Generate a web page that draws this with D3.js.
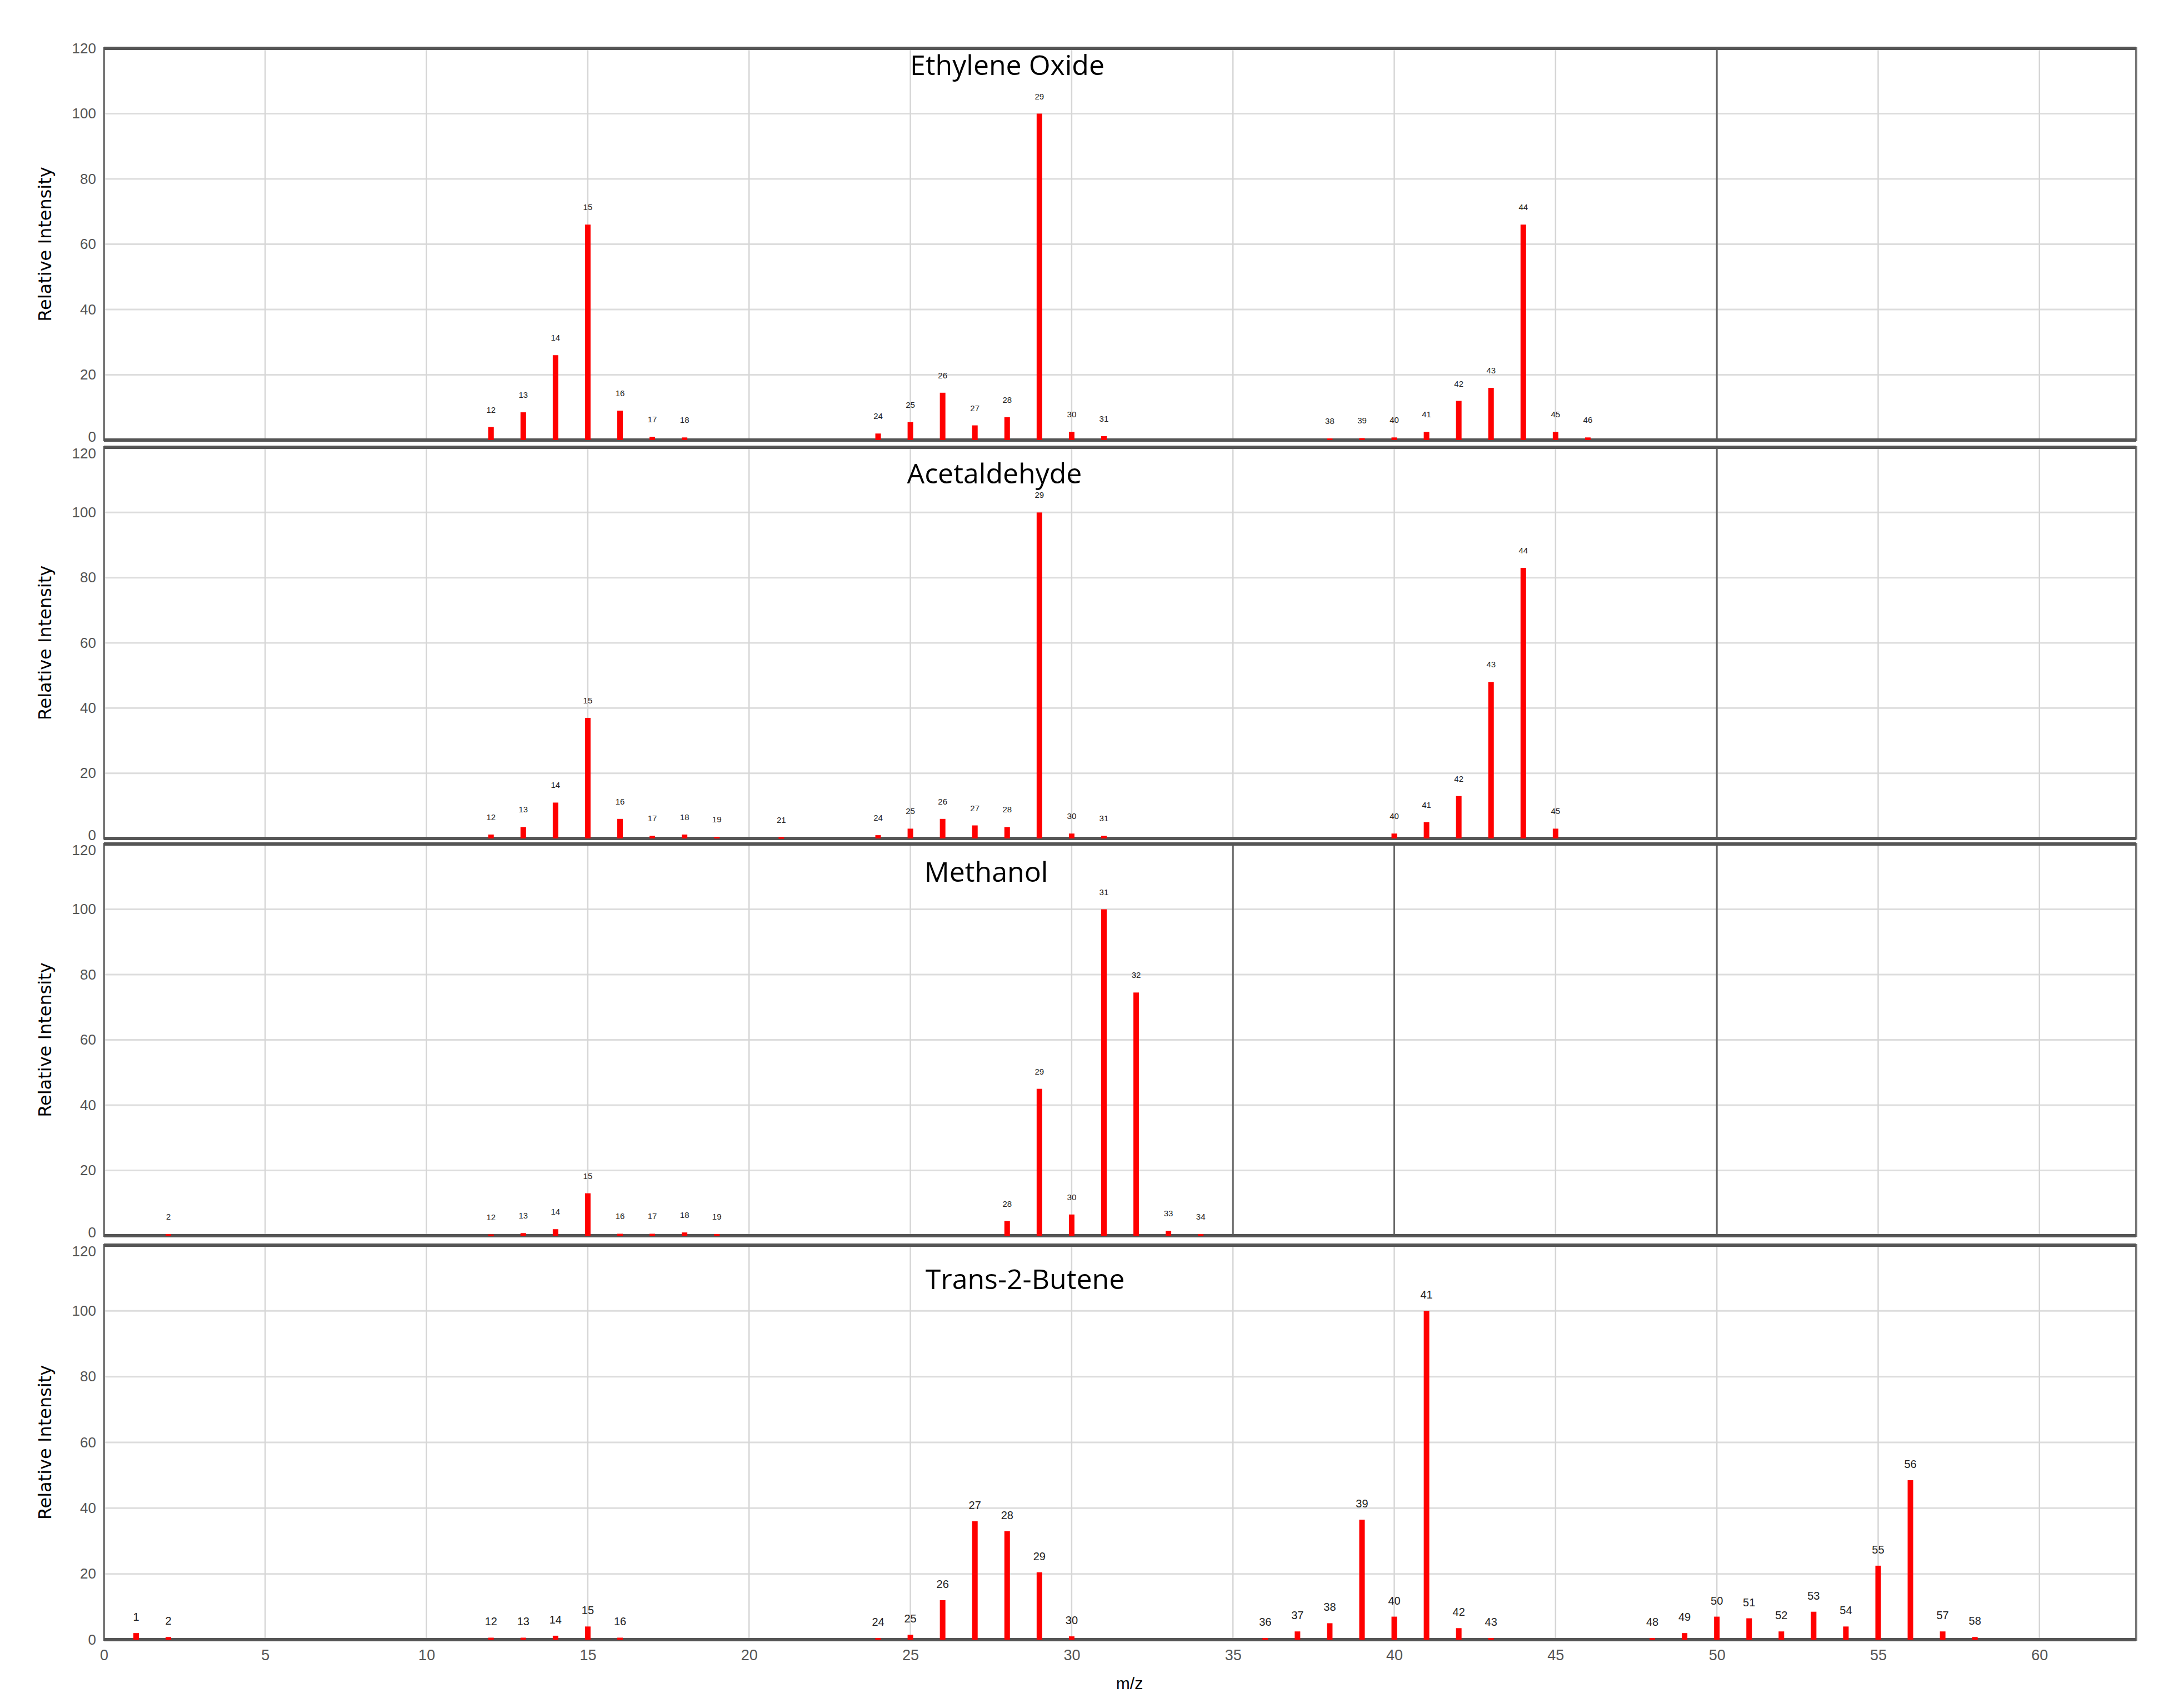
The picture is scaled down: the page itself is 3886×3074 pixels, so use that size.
<!DOCTYPE html>
<html><head><meta charset="utf-8">
<script src="https://cdn.jsdelivr.net/npm/d3@7"></script>
<style>body{margin:0;background:#fff}</style></head>
<body><svg id="c" width="3886" height="3074"></svg>
<script>
const titles = ["Ethylene Oxide","Acetaldehyde","Methanol","Trans-2-Butene"];
const eoMz  = [12,13,14,15,16,17,18,24,25,26,27,28,29,30,31,38,39,40,41,42,43,44,45,46];
const eoVal = [4,8.5,26,66,9,1,0.8,2,5.5,14.5,4.5,7,100,2.5,1.2,0.5,0.6,0.8,2.5,12,16,66,2.5,0.8];
const acMz  = [12,13,14,15,16,17,18,19,21,24,25,26,27,28,29,30,31,40,41,42,43,44,45];
const acVal = [1.2,3.5,11,37,6,0.8,1.2,0.5,0.4,1,3,6,4,3.5,100,1.5,0.8,1.5,5,13,48,83,3];
const meMz  = [2,12,13,14,15,16,17,18,19,28,29,30,31,32,33,34];
const meVal = [0.5,0.4,0.8,2,13,0.6,0.6,1,0.5,4.5,45,6.5,100,74.5,1.5,0.5];
const buMz  = [1,2,12,13,14,15,16,24,25,26,27,28,29,30,36,37,38,39,40,41,42,43,48,49,50,51,52,53,54,55,56,57,58];
const buVal = [2,0.8,0.6,0.6,1.2,4,0.6,0.5,1.5,12,36,33,20.5,1,0.5,2.5,5,36.5,7,100,3.5,0.5,0.5,2,7,6.5,2.5,8.5,4,22.5,48.5,2.5,0.8];
const xTicks = [0,5,10,15,20,25,30,35,40,45,50,55,60];
const yTicks = [0,20,40,60,80,100,120];
const extraLines = [[50],[50],[35,40,50],[]];

const series = [[eoMz,eoVal],[acMz,acVal],[meMz,meVal],[buMz,buVal]];
const panels = [[87,792],[805,1509],[1519,2224],[2241,2951]];
const titleY = [135,870,1587,2320];
const titleX = [1813,1790,1775,1845];
const svg = d3.select("#c");
const x = d3.scaleLinear().domain([0,63]).range([187,3845]);
const font = "Liberation Sans, Arial, sans-serif";

panels.forEach(([top,bot],i)=>{
  const y = d3.scaleLinear().domain([0,120]).range([bot,top]);
  const g = svg.append("g");
  g.selectAll(".gy").data(yTicks.slice(1,-1)).join("line")
    .attr("x1",x(0)).attr("x2",x(63)).attr("y1",d=>y(d)).attr("y2",d=>y(d))
    .attr("stroke","#ddd").attr("stroke-width",3);
  g.selectAll(".gx").data(xTicks.slice(1)).join("line")
    .attr("x1",d=>x(d)).attr("x2",d=>x(d)).attr("y1",top).attr("y2",bot)
    .attr("stroke","#d6d6d6").attr("stroke-width",2.5);
  g.selectAll(".ex").data(extraLines[i]).join("line")
    .attr("x1",d=>x(d)).attr("x2",d=>x(d)).attr("y1",top).attr("y2",bot)
    .attr("stroke","#666").attr("stroke-width",3);
  g.append("rect").attr("x",x(0)).attr("y",top).attr("width",x(63)-x(0)).attr("height",bot-top)
    .attr("fill","none").attr("stroke","#777").attr("stroke-width",4);
  g.append("line").attr("x1",x(0)).attr("x2",x(63)).attr("y1",top).attr("y2",top).attr("stroke","#555").attr("stroke-width",6);
  g.append("line").attr("x1",x(0)).attr("x2",x(63)).attr("y1",bot).attr("y2",bot).attr("stroke","#555").attr("stroke-width",6);
  const ya = d3.axisLeft(y).tickValues(yTicks).tickSize(0).tickPadding(14);
  const ag = g.append("g").attr("transform",`translate(${x(0)},0)`).call(ya);
  ag.select(".domain").remove();
  ag.selectAll("text").attr("font-size",26).attr("font-family",font).attr("fill","#555")
    .attr("dy",d=> i>0 && d===120 ? "0.75em" : (d===0 && i<3 ? "0.1em" : "0.32em"));
  g.append("text").attr("transform",`translate(92,${(top+bot)/2}) rotate(-90)`)
    .attr("text-anchor","middle").attr("font-size",32).attr("font-family","DejaVu Sans, sans-serif").text("Relative Intensity");
  g.append("text").attr("x",titleX[i]).attr("y",titleY[i]).attr("text-anchor","middle")
    .attr("font-size",50).attr("font-family","Open Sans, sans-serif").text(titles[i]);
  const [mz,val] = series[i];
  const bw = 10;
  g.selectAll(".b").data(mz).join("rect")
    .attr("x",d=>x(d)-bw/2).attr("width",bw)
    .attr("y",(d,k)=>y(val[k])).attr("height",(d,k)=>Math.max(3,y(0)-y(val[k])))
    .attr("fill","#ff0000");
  g.selectAll(".l").data(mz).join("text")
    .attr("x",d=>x(d)).attr("y",(d,k)=>y(val[k])-(i===3?22:26))
    .attr("text-anchor","middle").attr("font-size",i===3?20:15).attr("font-family",font)
    .attr("fill","#222").text(d=>d);
  if(i===3){
    const xa = d3.axisBottom(x).tickValues(xTicks).tickSize(0).tickPadding(18);
    const xg = g.append("g").attr("transform",`translate(0,${bot})`).call(xa);
    xg.select(".domain").remove();
    xg.selectAll("text").attr("font-size",27).attr("font-family",font).attr("fill","#555");
    g.append("text").attr("x",2033).attr("y",3040).attr("text-anchor","middle")
      .attr("font-size",30).attr("font-family",font).text("m/z");
  }
});
</script></body></html>
